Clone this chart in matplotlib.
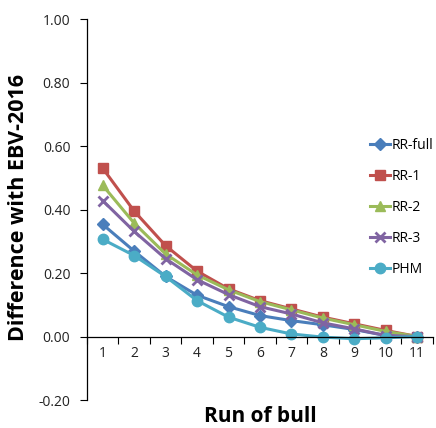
import numpy as np
import matplotlib.pyplot as plt

plt.rcParams['font.family'] = ['Open Sans', 'DejaVu Sans']

runs = [1, 2, 3, 4, 5, 6, 7, 8, 9, 10, 11]
rr_full = [0.353, 0.269, 0.189, 0.130, 0.094, 0.066, 0.050, 0.037, 0.022, 0.003, 0.0]
rr_1 = [0.530, 0.395, 0.286, 0.206, 0.150, 0.113, 0.087, 0.061, 0.040, 0.019, 0.0]
rr_2 = [0.476, 0.357, 0.260, 0.194, 0.147, 0.110, 0.084, 0.058, 0.037, 0.016, 0.0]
rr_3 = [0.428, 0.331, 0.245, 0.179, 0.132, 0.094, 0.071, 0.043, 0.024, 0.003, 0.0]
phm = [0.306, 0.255, 0.189, 0.113, 0.061, 0.029, 0.008, -0.002, -0.007, -0.004, 0.0]

series = [
    ('RR-full', rr_full, '#4A7EBB', 'D', 6),
    ('RR-1', rr_1, '#C0504D', 's', 7),
    ('RR-2', rr_2, '#9BBB59', '^', 7.5),
    ('RR-3', rr_3, '#8064A2', 'x', 6.5),
    ('PHM', phm, '#4BACC6', 'o', 7.5),
]

fig = plt.figure(figsize=(4.36, 4.28), dpi=100)
ax = fig.add_axes([0.1995, 0.0654, 0.7935, 0.8902])

for name, vals, col, mk, ms in series:
    ax.plot(runs, vals, color=col, lw=2.2, marker=mk, ms=ms,
            mec=col, mfc=col, mew=2 if mk == 'x' else 1, label=name)

ax.set_xlim(0.5, 11.5)
ax.set_ylim(-0.2, 1.0)
yt = np.arange(-0.2, 1.01, 0.2)
ax.set_yticks(yt)
ax.set_yticklabels(['%.2f' % v for v in yt], fontsize=10, color='#222222')

ax.spines['top'].set_visible(False)
ax.spines['right'].set_visible(False)
ax.spines['bottom'].set_position(('data', 0))
ax.spines['left'].set_linewidth(0.9)
ax.spines['bottom'].set_linewidth(0.9)

ax.set_xticks(np.arange(0.5, 12, 1))
ax.set_xticklabels([])
ax.set_xticks(runs, minor=True)
ax.set_xticklabels([str(r) for r in runs], minor=True, fontsize=10, color='#222222')
ax.tick_params(axis='x', which='minor', length=0, pad=7)
ax.tick_params(axis='x', which='major', direction='out', length=5)
ax.tick_params(axis='y', direction='out', length=5, pad=7)

fig.text(0.042, 0.516, 'Difference with EBV-2016', rotation=90, fontsize=15.5,
         fontweight='bold', ha='center', va='center')
fig.text(0.598, 0.028, 'Run of bull', fontsize=15, fontweight='bold',
         ha='center', va='center')

ax.legend(loc='upper left', bbox_to_anchor=(0.835, 0.69),
          bbox_transform=fig.transFigure, frameon=False, fontsize=10,
          handlelength=1.45, handletextpad=0.15, labelspacing=1.15,
          borderaxespad=0)

fig.savefig('out.png')
